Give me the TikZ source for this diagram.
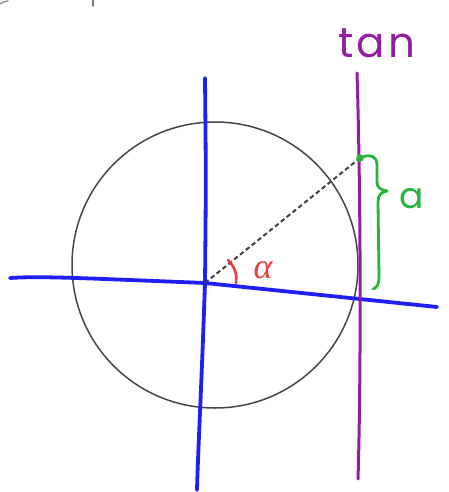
\documentclass[tikz,border=0pt]{standalone}
\usepackage{fontspec}
\setmainfont{Liberation Sans}
\newfontfamily\handfont{Poppins}
\newfontfamily\greekfont{Liberation Serif}
\definecolor{axisblue}{RGB}{30,30,245}
\definecolor{tanpurple}{RGB}{145,30,160}
\definecolor{brgreen}{RGB}{40,180,60}
\definecolor{angred}{RGB}{240,60,60}
\definecolor{circgray}{RGB}{70,70,70}
\tikzset{
  axis/.style={draw=axisblue,line width=3.8pt,line cap=round},
  tanline/.style={draw=tanpurple,line width=3pt,line cap=round},
  hand/.style={line cap=round,line join=round},
  lbl/.style={inner sep=0pt}
}
\begin{document}
\begin{tikzpicture}[x=1pt,y=-1pt]
\useasboundingbox (0,0) rectangle (448,492);
% small marks at top
\draw[circgray!60,line width=1.4pt,hand] (0,4) .. controls (3,2) .. (8,1);
\draw[circgray!70,line width=1.8pt,hand] (93,0) -- (93,6);
% circle
\coordinate (O) at (205,283);
\draw[circgray,line width=1.5pt] (215,265) circle (143);
% axes
\coordinate (xl) at (10,278);
\coordinate (xr) at (437,307);
\coordinate (yt) at (205,78);
\coordinate (yb) at (197,490);
\draw[axis] (xl) .. controls (40,276) and (80,278) .. (O) -- (xr);
\draw[axis] (yt) .. controls (206,180) .. (O) .. controls (201,400) and (198,450) .. (yb);
% tan line
\coordinate (tt) at (357,73);
\coordinate (tb) at (358,479);
\draw[tanline] (tt) .. controls (361,200) and (361,380) .. (tb);
\node[lbl,anchor=base,text=tanpurple,font=\handfont\fontsize{42}{42}\selectfont\addfontfeature{LetterSpace=8}] (tan) at (377,58) {tan};
% point and dashed line
\coordinate (P) at (360,158);
\draw[dash pattern=on 4.5pt off 3pt,line width=2pt,black!75] (O) -- (P);
\fill[brgreen] (P) circle (3.8);
% brace
\draw[brgreen,line width=2.8pt,hand] (363,157) .. controls (370,154) and (377,156) .. (377,165)
  -- (377,182) .. controls (377,188) and (381,190) .. (387,191)
  .. controls (381,192) and (378,195) .. (378,202)
  -- (379,277) .. controls (379,284) and (377,288) .. (373,289);
\node[lbl,anchor=base,text=brgreen,font=\handfont\fontsize{36}{36}\selectfont] (a) at (412,208) {a};
% angle
\draw[angred,line width=2.6pt,hand] (228,260) .. controls (236,268) and (237,276) .. (236,283);
\node[lbl,anchor=base,text=angred,font=\greekfont\itshape\fontsize{36}{36}\selectfont] (alpha) at (263,278) {α};
\end{tikzpicture}
\end{document}
